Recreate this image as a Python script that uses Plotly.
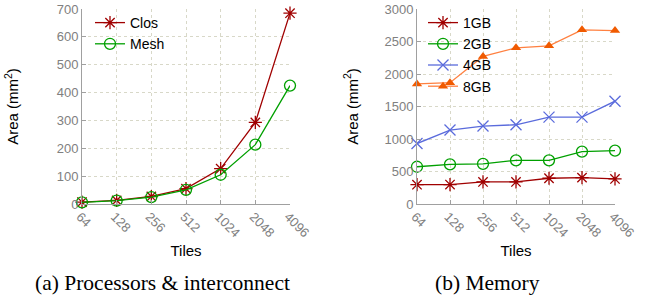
import plotly.graph_objects as go

tiles = ["64", "128", "256", "512", "1024", "2048", "4096"]

clos = [7, 13, 27, 55, 127, 293, 685]
mesh = [6, 12, 25, 51, 105, 213, 425]

mem_1gb = [297, 299, 339, 339, 396, 406, 386]
mem_2gb = [573, 609, 618, 672, 672, 806, 822]
mem_4gb = [930, 1138, 1199, 1219, 1337, 1337, 1582]
mem_8gb = [1847, 1866, 2270, 2403, 2434, 2679, 2668]

left_ticks = [0, 100, 200, 300, 400, 500, 600, 700]
right_ticks = [0, 500, 1000, 1500, 2000, 2500, 3000]

FONT = "Liberation Sans, Arial, sans-serif"
SERIF = "Liberation Serif, Times New Roman, serif"
GRAY = "#808080"
GRID = "#d8d8c8"

W, H = 654, 301


def px(x):
    return x / W


def py(y):
    return 1 - y / H


fig = go.Figure()


def add(x, y, name, color, symbol, size, xa, ya, legend, lcolor=None, mline=1.3):
    fig.add_trace(go.Scatter(
        x=x, y=y, name=name, mode="lines+markers",
        line=dict(color=lcolor or color, width=1.3),
        marker=dict(symbol=symbol, size=size, color=color,
                    line=dict(color=color, width=mline)),
        xaxis=xa, yaxis=ya, legend=legend, cliponaxis=False,
    ))


add(tiles, clos, "Clos", "#a00000", "asterisk-open", 11, "x", "y", "legend")
add(tiles, mesh, "Mesh", "#00a000", "circle-open", 11, "x", "y", "legend")

add(tiles, mem_1gb, "1GB", "#a00000", "asterisk-open", 11, "x2", "y2", "legend2")
add(tiles, mem_2gb, "2GB", "#00a000", "circle-open", 11, "x2", "y2", "legend2")
add(tiles, mem_4gb, "4GB", "#5a6bdc", "x-thin-open", 11, "x2", "y2", "legend2")
add(tiles, mem_8gb, "8GB", "#f05a00", "triangle-up", 9, "x2", "y2", "legend2",
    lcolor="#ff8040", mline=0)

xcommon = dict(
    type="category", range=[0, 6], tickangle=45, automargin=False,
    tickfont=dict(family=FONT, size=13, color=GRAY),
    ticklabelshift=-2, ticklabelstandoff=-1,
    showline=True, linecolor="#a0a0a0", linewidth=1,
    ticks="inside", ticklen=4, tickcolor="#a0a0a0",
    showgrid=True, gridcolor=GRID, griddash="dot", gridwidth=1,
    title=dict(text="Tiles", font=dict(family=FONT, size=15, color="black"), standoff=6),
    zeroline=False,
)
ycommon = dict(
    automargin=False,
    tickfont=dict(family=FONT, size=13, color=GRAY),
    showline=True, linecolor="#a0a0a0", linewidth=1,
    ticks="inside", ticklen=4, tickcolor="#a0a0a0",
    showgrid=True, gridcolor=GRID, griddash="dot", gridwidth=1,
    zeroline=False,
)

ydom = [py(204), py(9)]
ytitle = "Area (mm<sup>2</sup>)"
tfont = dict(family=FONT, size=15, color="black")
lfont = dict(family=FONT, size=14, color="black")

fig.update_layout(
    width=W, height=H,
    margin=dict(l=0, r=0, t=0, b=0),
    paper_bgcolor="white", plot_bgcolor="white",
    showlegend=True,
    xaxis=dict(xcommon, domain=[px(82), px(290)], anchor="y"),
    yaxis=dict(ycommon, domain=ydom, range=[0, 700], tickvals=left_ticks, anchor="x",
               title=dict(text=ytitle, font=tfont, standoff=34)),
    xaxis2=dict(xcommon, domain=[px(417), px(615)], anchor="y2"),
    yaxis2=dict(ycommon, domain=ydom, range=[0, 3000], tickvals=right_ticks, anchor="x2",
                title=dict(text=ytitle, font=tfont, standoff=22)),
    legend=dict(x=px(90), y=py(7), xanchor="left", yanchor="top",
                bgcolor="rgba(255,255,255,0)", font=lfont,
                tracegroupgap=0, itemwidth=30),
    legend2=dict(x=px(423), y=py(7), xanchor="left", yanchor="top",
                 bgcolor="rgba(255,255,255,0)", font=lfont,
                 tracegroupgap=0, itemwidth=30),
    annotations=[
        dict(text="(a) Processors &amp; interconnect", x=px(162.5), y=py(283),
             xref="paper", yref="paper", xanchor="center", yanchor="middle", showarrow=False,
             font=dict(family=SERIF, size=21.5, color="black")),
        dict(text="(b) Memory", x=px(487.5), y=py(283),
             xref="paper", yref="paper", xanchor="center", yanchor="middle", showarrow=False,
             font=dict(family=SERIF, size=21.5, color="black")),
    ],
)

fig.write_html("out.html",
               config={"displayModeBar": False},
               post_script="document.body.style.margin='0';document.body.style.overflow='hidden';")
